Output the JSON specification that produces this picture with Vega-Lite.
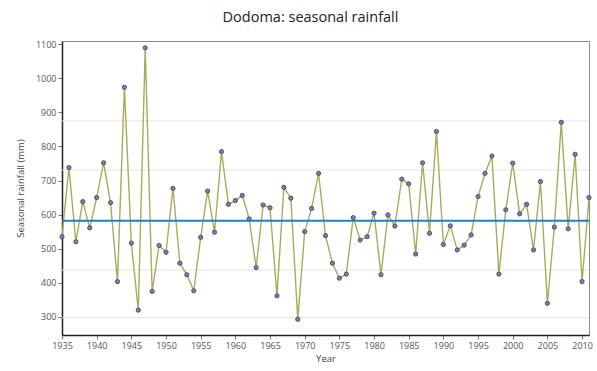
{
  "$schema": "https://vega.github.io/schema/vega-lite/v6.json",
  "width": 527,
  "height": 294,
  "autosize": {"type": "none"},
  "padding": {"left": 62, "top": 41, "right": 8, "bottom": 36},
  "background": "white",
  "title": {
    "text": "Dodoma: seasonal rainfall",
    "font": "Open Sans",
    "fontSize": 14.5,
    "fontWeight": "normal",
    "color": "#222222",
    "anchor": "middle",
    "dx": -15,
    "offset": 15
  },
  "config": {
    "view": {"stroke": "#8a8a8a", "strokeWidth": 1},
    "axis": {
      "labelFont": "Open Sans",
      "titleFont": "Open Sans",
      "labelFontSize": 9,
      "titleFontSize": 9.5,
      "titleFontWeight": "normal",
      "labelColor": "#555555",
      "titleColor": "#444444",
      "domainColor": "#222222",
      "domainWidth": 1.5,
      "tickColor": "#777777",
      "tickSize": 4,
      "labelOverlap": false,
      "labelFlush": false,
      "grid": false
    }
  },
  "datasets": {
    "rain": [
      {"year": 1935, "mm": 535}, {"year": 1936, "mm": 738}, {"year": 1937, "mm": 520},
      {"year": 1938, "mm": 638}, {"year": 1939, "mm": 561}, {"year": 1940, "mm": 650},
      {"year": 1941, "mm": 752}, {"year": 1942, "mm": 635}, {"year": 1943, "mm": 403},
      {"year": 1944, "mm": 974}, {"year": 1945, "mm": 516}, {"year": 1946, "mm": 319},
      {"year": 1947, "mm": 1090}, {"year": 1948, "mm": 374}, {"year": 1949, "mm": 509},
      {"year": 1950, "mm": 489}, {"year": 1951, "mm": 677}, {"year": 1952, "mm": 457},
      {"year": 1953, "mm": 423}, {"year": 1954, "mm": 376}, {"year": 1955, "mm": 533},
      {"year": 1956, "mm": 669}, {"year": 1957, "mm": 548}, {"year": 1958, "mm": 785},
      {"year": 1959, "mm": 630}, {"year": 1960, "mm": 641}, {"year": 1961, "mm": 656},
      {"year": 1962, "mm": 587}, {"year": 1963, "mm": 444}, {"year": 1964, "mm": 628},
      {"year": 1965, "mm": 620}, {"year": 1966, "mm": 361}, {"year": 1967, "mm": 680},
      {"year": 1968, "mm": 648}, {"year": 1969, "mm": 292}, {"year": 1970, "mm": 550},
      {"year": 1971, "mm": 618}, {"year": 1972, "mm": 721}, {"year": 1973, "mm": 538},
      {"year": 1974, "mm": 457}, {"year": 1975, "mm": 413}, {"year": 1976, "mm": 425},
      {"year": 1977, "mm": 591}, {"year": 1978, "mm": 525}, {"year": 1979, "mm": 535},
      {"year": 1980, "mm": 604}, {"year": 1981, "mm": 423}, {"year": 1982, "mm": 599},
      {"year": 1983, "mm": 566}, {"year": 1984, "mm": 704}, {"year": 1985, "mm": 690},
      {"year": 1986, "mm": 484}, {"year": 1987, "mm": 752}, {"year": 1988, "mm": 545},
      {"year": 1989, "mm": 844}, {"year": 1990, "mm": 512}, {"year": 1991, "mm": 567},
      {"year": 1992, "mm": 496}, {"year": 1993, "mm": 510}, {"year": 1994, "mm": 540},
      {"year": 1995, "mm": 653}, {"year": 1996, "mm": 721}, {"year": 1997, "mm": 772},
      {"year": 1998, "mm": 425}, {"year": 1999, "mm": 614}, {"year": 2000, "mm": 751},
      {"year": 2001, "mm": 602}, {"year": 2002, "mm": 630}, {"year": 2003, "mm": 496},
      {"year": 2004, "mm": 697}, {"year": 2005, "mm": 339}, {"year": 2006, "mm": 563},
      {"year": 2007, "mm": 871}, {"year": 2008, "mm": 558}, {"year": 2009, "mm": 777},
      {"year": 2010, "mm": 403}, {"year": 2011, "mm": 650}
    ],
    "guides": [
      {"mm": 875}, {"mm": 731}, {"mm": 437}, {"mm": 297}
    ],
    "mean": [
      {"mm": 582}
    ]
  },
  "layer": [
    {
      "data": {"name": "guides"},
      "mark": {"type": "rule", "color": "#e4e4e4", "strokeWidth": 1},
      "encoding": {
        "y": {
          "field": "mm",
          "type": "quantitative",
          "title": "Seasonal rainfall (mm)",
          "scale": {"domain": [246, 1110], "nice": false, "zero": false},
          "axis": {
            "values": [300, 400, 500, 600, 700, 800, 900, 1000, 1100],
            "format": "d",
            "labelPadding": 2,
            "titlePadding": 10
          }
        }
      }
    },
    {
      "data": {"name": "rain"},
      "mark": {
        "type": "line",
        "color": "#aaaa5c",
        "strokeWidth": 1.4,
        "point": {
          "filled": true,
          "fill": "#7e7ea4",
          "stroke": "#454568",
          "strokeWidth": 0.9,
          "size": 18
        }
      },
      "encoding": {
        "x": {
          "field": "year",
          "type": "quantitative",
          "title": "Year",
          "scale": {"domain": [1935, 2011], "nice": false, "zero": false},
          "axis": {
            "values": [1935, 1940, 1945, 1950, 1955, 1960, 1965, 1970, 1975, 1980, 1985, 1990, 1995, 2000, 2005, 2010],
            "format": "d",
            "labelPadding": 2,
            "titlePadding": 3
          }
        },
        "y": {
          "field": "mm",
          "type": "quantitative",
          "title": "Seasonal rainfall (mm)",
          "scale": {"domain": [246, 1110], "nice": false, "zero": false},
          "axis": {
            "values": [300, 400, 500, 600, 700, 800, 900, 1000, 1100],
            "format": "d",
            "labelPadding": 2,
            "titlePadding": 10
          }
        }
      }
    },
    {
      "data": {"name": "mean"},
      "mark": {"type": "rule", "color": "#1a7fd6", "strokeWidth": 2},
      "encoding": {
        "y": {
          "field": "mm",
          "type": "quantitative",
          "title": "Seasonal rainfall (mm)",
          "scale": {"domain": [246, 1110], "nice": false, "zero": false},
          "axis": {
            "values": [300, 400, 500, 600, 700, 800, 900, 1000, 1100],
            "format": "d",
            "labelPadding": 2,
            "titlePadding": 10
          }
        }
      }
    }
  ]
}
